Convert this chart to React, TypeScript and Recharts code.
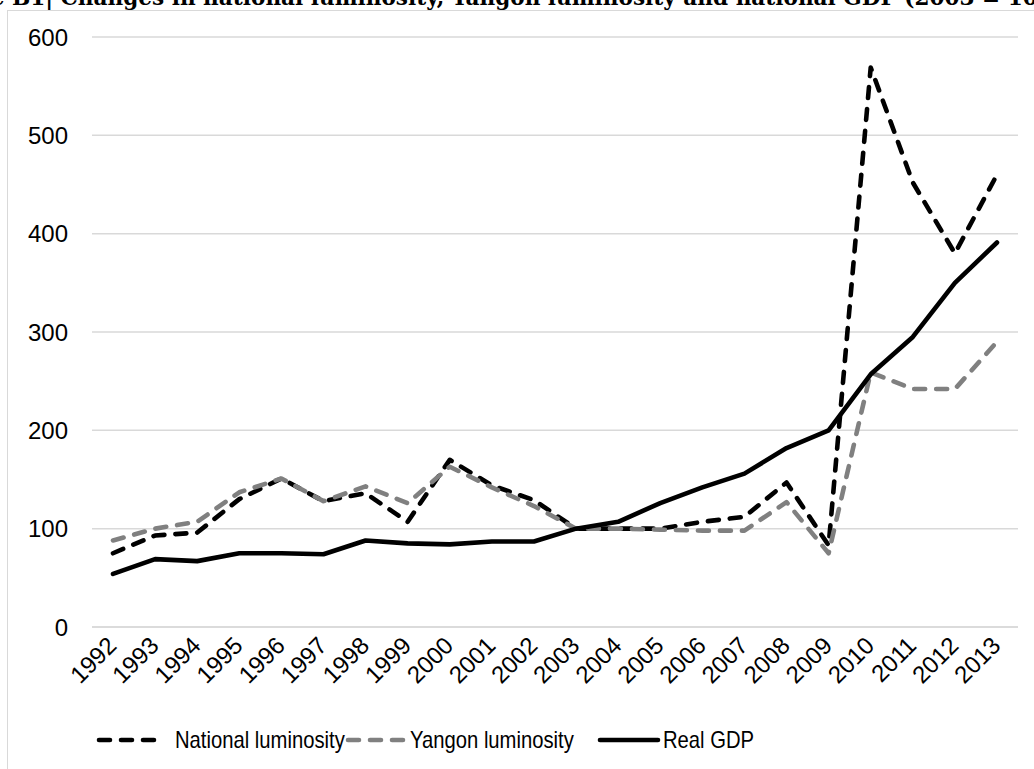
import React from 'react';
import { LineChart, Line, XAxis, YAxis, CartesianGrid } from 'recharts';

const years = ['1992', '1993', '1994', '1995', '1996', '1997', '1998', '1999', '2000', '2001', '2002',
  '2003', '2004', '2005', '2006', '2007', '2008', '2009', '2010', '2011', '2012', '2013'];
const nationalLuminosity = [75, 93, 96, 130, 151, 128, 136, 107, 170, 144, 129,
  100, 100, 100, 107, 112, 147, 83, 569, 452, 380, 460];
const yangonLuminosity = [88, 100, 107, 137, 151, 128, 143, 126, 163, 142, 123,
  100, 100, 99, 98, 98, 127, 75, 259, 242, 242, 290];
const realGdp = [54, 69, 67, 75, 75, 74, 88, 85, 84, 87, 87,
  100, 107, 126, 142, 156, 182, 200, 257, 295, 350, 391];
const yTicks = [0, 100, 200, 300, 400, 500, 600];

const data = years.map((year, i) => ({
  year,
  national: nationalLuminosity[i],
  yangon: yangonLuminosity[i],
  gdp: realGdp[i],
}));

const series = [
  { key: 'national', name: 'National luminosity', color: '#000000', dash: '11 11' },
  { key: 'yangon', name: 'Yangon luminosity', color: '#808080', dash: '11 11' },
  { key: 'gdp', name: 'Real GDP', color: '#000000', dash: undefined },
];

const FONT = '"Liberation Sans", Arial, sans-serif';

const XTick = (props: any) => {
  const { x, y, payload } = props;
  return (
    <g transform={`translate(${x + 5},${y + 12})`}>
      <text transform="rotate(-45)" textAnchor="end" fontSize={24} fontFamily={FONT} fill="#000">
        {payload.value}
      </text>
    </g>
  );
};

// legend layout: where each icon and label starts
const legendIconX = [99, 348, 600];
const legendTextX = [175, 410, 663];

export default function App() {
  return (
    <div style={{ position: 'absolute', left: 0, top: 0, width: 1034, height: 769, overflow: 'hidden', background: '#fff' }}>
      <svg width={1034} height={20} style={{ position: 'absolute', left: 0, top: 0 }}>
        <text x={-75} y={5} fontFamily='"DejaVu Serif", serif' fontWeight="bold" fontSize={21.6} fill="#000">
          Figure B1| Changes in national luminosity, Yangon luminosity and national GDP (2003 = 100)
        </text>
      </svg>
      <div style={{ position: 'absolute', left: 7, top: 10, width: 1100, height: 800, borderLeft: '1.5px solid #d9d9d9', borderTop: '1.5px solid #d9d9d9' }} />
      <div style={{ position: 'absolute', left: 0, top: 0 }}>
        <LineChart width={1034} height={769} data={data} margin={{ top: 37, right: 16, left: 0, bottom: 0 }}>
          <CartesianGrid vertical={false} stroke="#d9d9d9" strokeWidth={1.5} />
          <XAxis dataKey="year" height={142} axisLine={{ stroke: '#d9d9d9', strokeWidth: 1.5 }} tickLine={false}
            interval={0} tick={<XTick />} padding={{ left: 21, right: 21 }} />
          <YAxis width={92} domain={[0, 600]} ticks={yTicks} axisLine={false} tickLine={false} tickSize={0}
            tickMargin={24} tick={{ fontSize: 24, fontFamily: FONT, fill: '#000' }} />
          {series.map(s => (
            <Line key={s.key} dataKey={s.key} name={s.name} type="linear" stroke={s.color} strokeWidth={4.6}
              strokeDasharray={s.dash} strokeLinecap="round" strokeLinejoin="round" dot={false} isAnimationActive={false} />
          ))}
        </LineChart>
      </div>
      <svg width={1034} height={50} style={{ position: 'absolute', left: 0, top: 715 }}>
        {series.map((s, i) => (
          <g key={s.key}>
            <line x1={legendIconX[i]} y1={25} x2={legendIconX[i] + 58} y2={25} stroke={s.color} strokeWidth={4.6}
              strokeDasharray={s.dash} strokeLinecap="round" />
            <text transform={`translate(${legendTextX[i]},33) scale(0.88,1)`} fontFamily={FONT} fontSize={23} fill="#000">
              {s.name}
            </text>
          </g>
        ))}
      </svg>
    </div>
  );
}
